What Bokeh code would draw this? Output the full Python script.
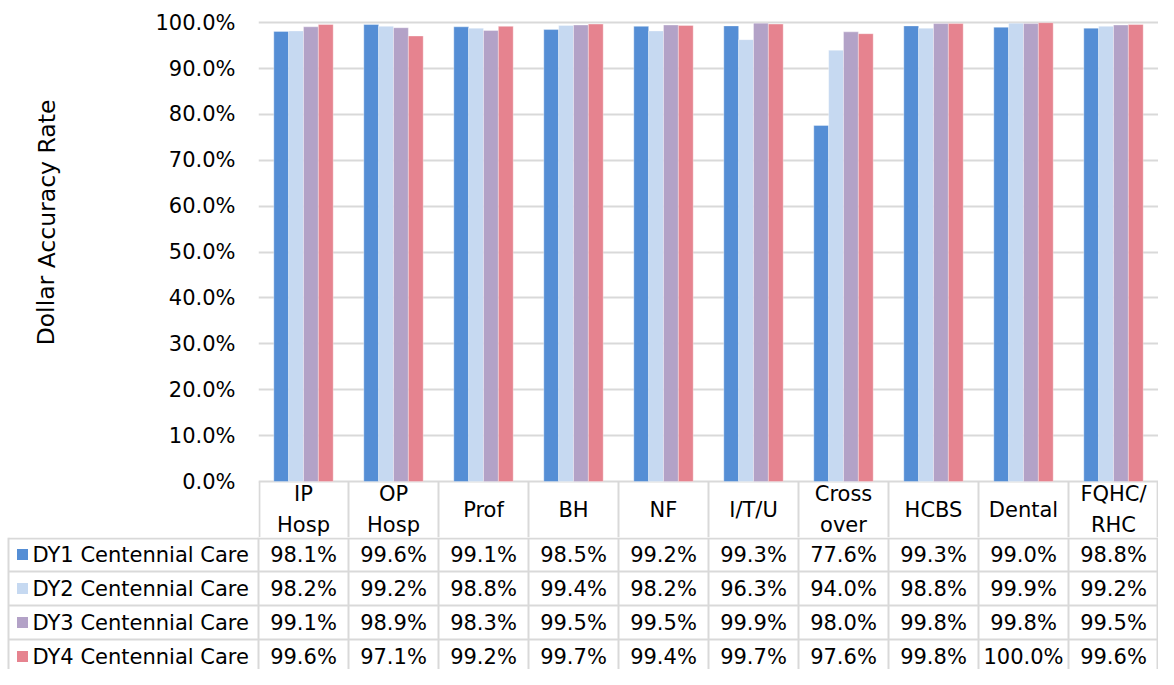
from bokeh.plotting import figure
from bokeh.models import Range1d, FixedTicker, NumeralTickFormatter, ColumnDataSource
from bokeh.layouts import column, row
from bokeh.embed import file_html
from bokeh.resources import INLINE
from bokeh.core.properties import value

categories = ["IP\nHosp", "OP\nHosp", "Prof", "BH", "NF", "I/T/U", "Cross\nover", "HCBS", "Dental", "FQHC/\nRHC"]
series_names = ["DY1 Centennial Care", "DY2 Centennial Care", "DY3 Centennial Care", "DY4 Centennial Care"]
dy1 = [98.1, 99.6, 99.1, 98.5, 99.2, 99.3, 77.6, 99.3, 99.0, 98.8]
dy2 = [98.2, 99.2, 98.8, 99.4, 98.2, 96.3, 94.0, 98.8, 99.9, 99.2]
dy3 = [99.1, 98.9, 98.3, 99.5, 99.5, 99.9, 98.0, 99.8, 99.8, 99.5]
dy4 = [99.6, 97.1, 99.2, 99.7, 99.4, 99.7, 97.6, 99.8, 100.0, 99.6]
series = [dy1, dy2, dy3, dy4]
colors = ["#558ED5", "#C6D9F1", "#B3A2C7", "#E6838F"]
y_ticks = [0.0, 0.1, 0.2, 0.3, 0.4, 0.5, 0.6, 0.7, 0.8, 0.9, 1.0]
axis_title = "Dollar Accuracy Rate"

FONT = "DejaVu Sans"
FS = "21px"
GRID = "#d9d9d9"
W = 1158
H1 = 537          # bars + table header row
H2 = 132          # table body
LEFT = 258
W0 = 90           # width of the axis-title strip
n = len(categories)
HEAD = -0.122     # bottom of the header row, in chart units

# ---------------- axis title strip ----------------
tf = figure(width=W0, height=H1, output_backend="svg", toolbar_location=None,
            x_range=Range1d(0, W0), y_range=Range1d(0, H1),
            min_border_left=0, min_border_right=0, min_border_top=0, min_border_bottom=0)
tf.frame_align = False
tf.outline_line_color = None
tf.axis.visible = False
tf.grid.visible = False
tf.text(x=[46], y=[H1 - 222], text=[axis_title], angle=1.5707963,
        text_align="center", text_baseline="middle", text_font=value(FONT),
        text_font_size="23.5px", text_color="#000000")

# ---------------- bar chart + header row ----------------
p = figure(width=W - W0, height=H1, output_backend="svg", toolbar_location=None,
           x_range=Range1d(0, n), y_range=Range1d(HEAD, 1.02),
           min_border_left=LEFT - W0, min_border_right=0, min_border_top=13, min_border_bottom=0)
p.frame_align = False
p.outline_line_color = None
p.background_fill_color = "white"
p.border_fill_color = "white"
p.xaxis.visible = False
p.xgrid.visible = False
p.ygrid.grid_line_color = GRID
p.ygrid.grid_line_width = 2
p.yaxis.ticker = FixedTicker(ticks=y_ticks)
p.yaxis.formatter = NumeralTickFormatter(format="0.0%")
p.yaxis.axis_line_color = None
p.yaxis.major_tick_line_color = None
p.yaxis.minor_tick_line_color = None
p.yaxis.major_tick_out = 0
p.yaxis.major_label_standoff = 23
p.yaxis.major_label_text_font = FONT
p.yaxis.major_label_text_font_size = FS
p.yaxis.major_label_text_color = "#000000"

bw = 0.165
offsets = [-1.5 * bw, -0.5 * bw, 0.5 * bw, 1.5 * bw]
for s, vals in enumerate(series):
    src = ColumnDataSource(dict(x=[i + 0.5 + offsets[s] for i in range(n)],
                                top=[v / 100.0 for v in vals]))
    p.vbar(x="x", top="top", width=bw, bottom=0, source=src,
           fill_color=colors[s], line_color="white", line_alpha=0.35, line_width=1)

# header-row cell borders and category labels
hx = [min(max(k, 0.01), n - 0.01) for k in range(n + 1)]
p.segment(x0=hx, y0=[HEAD] * (n + 1), x1=hx, y1=[0] * (n + 1), line_color=GRID, line_width=2)
p.text(x=[i + 0.5 for i in range(n)], y=[HEAD / 2] * n, text=categories,
       text_align="center", text_baseline="middle", text_font=value(FONT),
       text_font_size=FS, text_color="#000000", text_line_height=1.3)

# ---------------- table body ----------------
t = figure(width=W, height=H2, output_backend="svg", toolbar_location=None,
           x_range=Range1d(0, W), y_range=Range1d(H2, 0),
           min_border_left=0, min_border_right=0, min_border_top=0, min_border_bottom=0)
t.frame_align = False
t.outline_line_color = None
t.axis.visible = False
t.grid.visible = False
t.background_fill_color = "white"
t.border_fill_color = "white"

col_w = (W - LEFT) / n
row_h = 34
bottom = row_h * len(series)

x0s, y0s, x1s, y1s = [], [], [], []
for k in range(n + 1):
    xx = min(LEFT + k * col_w, W - 1)
    x0s.append(xx); x1s.append(xx); y0s.append(0); y1s.append(bottom)
x0s.append(8); x1s.append(8); y0s.append(0); y1s.append(bottom)
for j in range(len(series) + 1):
    yy = max(j * row_h, 1)
    x0s.append(8); x1s.append(W); y0s.append(yy); y1s.append(yy)
t.segment(x0=x0s, y0=y0s, x1=x1s, y1=y1s, line_color=GRID, line_width=2)

row_y = [(j + 0.5) * row_h for j in range(len(series))]
t.scatter(x=[22] * len(series), y=row_y, marker="square", size=11,
          fill_color=colors, line_color=None)
t.text(x=[32] * len(series), y=row_y, text=series_names, text_align="left",
       text_baseline="middle", text_font=value(FONT), text_font_size=FS, text_color="#000000")

vx, vy, vt = [], [], []
for j, vals in enumerate(series):
    for k, v in enumerate(vals):
        vx.append(LEFT + (k + 0.5) * col_w)
        vy.append(row_y[j])
        vt.append(f"{v:.1f}%")
t.text(x=vx, y=vy, text=vt, text_align="center", text_baseline="middle",
       text_font=value(FONT), text_font_size=FS, text_color="#000000")

layout = column(row(tf, p, spacing=0), t, spacing=0)
open("out.html", "w").write(file_html(layout, INLINE))
